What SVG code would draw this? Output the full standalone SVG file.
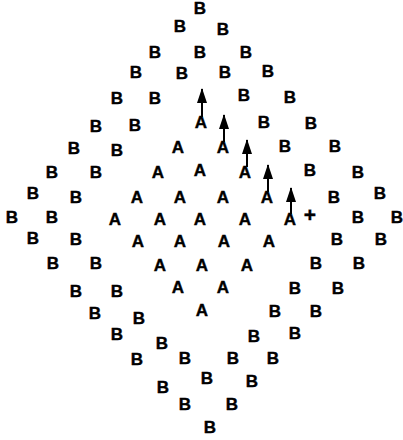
<svg xmlns="http://www.w3.org/2000/svg" width="403" height="440" viewBox="0 0 403 440">
<style>
text{font-family:"Liberation Sans",Arial,sans-serif;font-weight:bold;font-size:17px;fill:#000;stroke:#000;stroke-width:0.4;text-anchor:middle}
.p{font-size:21px}
.c line{stroke:#000;stroke-width:2}
</style>
<defs>
<marker id="ah" markerUnits="userSpaceOnUse" markerWidth="15" markerHeight="11" viewBox="0 0 15 11" refX="14" refY="5.5" orient="auto"><path d="M0,0.5 L15,5.5 L0,10.5 Z" fill="#000"/></marker>
</defs>
<rect width="403" height="440" fill="#fff"/>
<g id="nodes">
<g id="b1"><text x="200" y="14">B</text></g>
<g id="b2"><text x="180" y="32">B</text></g>
<g id="b3"><text x="223" y="35">B</text></g>
<g id="b4"><text x="155" y="58">B</text></g>
<g id="b5"><text x="200" y="58">B</text></g>
<g id="b6"><text x="246" y="58">B</text></g>
<g id="b7"><text x="136" y="78">B</text></g>
<g id="b8"><text x="182" y="79">B</text></g>
<g id="b9"><text x="225" y="78">B</text></g>
<g id="b10"><text x="268" y="77">B</text></g>
<g id="b11"><text x="117" y="104">B</text></g>
<g id="b12"><text x="155" y="104">B</text></g>
<g id="b13"><text x="244" y="101">B</text></g>
<g id="b14"><text x="290" y="103">B</text></g>
<g id="b15"><text x="96" y="132">B</text></g>
<g id="b16"><text x="135" y="131">B</text></g>
<g id="a1"><text x="201" y="128">A</text></g>
<g id="b17"><text x="264" y="128">B</text></g>
<g id="b18"><text x="311" y="129">B</text></g>
<g id="b19"><text x="74" y="154">B</text></g>
<g id="b20"><text x="117" y="156">B</text></g>
<g id="a2"><text x="178" y="153">A</text></g>
<g id="a3"><text x="223" y="153">A</text></g>
<g id="b21"><text x="285" y="152">B</text></g>
<g id="b22"><text x="335" y="152">B</text></g>
<g id="b23"><text x="52" y="178">B</text></g>
<g id="b24"><text x="96" y="178">B</text></g>
<g id="a4"><text x="158" y="178">A</text></g>
<g id="a5"><text x="200" y="176">A</text></g>
<g id="a6"><text x="245" y="178">A</text></g>
<g id="b25"><text x="310" y="176">B</text></g>
<g id="b26"><text x="358" y="178">B</text></g>
<g id="b27"><text x="33" y="199">B</text></g>
<g id="b28"><text x="76" y="203">B</text></g>
<g id="a7"><text x="137" y="203">A</text></g>
<g id="a8"><text x="180" y="203">A</text></g>
<g id="a9"><text x="223" y="203">A</text></g>
<g id="a10"><text x="267" y="203">A</text></g>
<g id="b29"><text x="334" y="203">B</text></g>
<g id="b30"><text x="380" y="199">B</text></g>
<g id="b31"><text x="12" y="223">B</text></g>
<g id="b32"><text x="52" y="223">B</text></g>
<g id="a11"><text x="115" y="225">A</text></g>
<g id="a12"><text x="160" y="225">A</text></g>
<g id="a13"><text x="200" y="225">A</text></g>
<g id="a14"><text x="245" y="225">A</text></g>
<g id="a15"><text x="290" y="225">A</text></g>
<g id="plus"><text class="p" x="310" y="222">+</text></g>
<g id="b33"><text x="358" y="223">B</text></g>
<g id="b34"><text x="397" y="223">B</text></g>
<g id="b35"><text x="33" y="244">B</text></g>
<g id="b36"><text x="76" y="245">B</text></g>
<g id="a16"><text x="138" y="247">A</text></g>
<g id="a17"><text x="180" y="247">A</text></g>
<g id="a18"><text x="224" y="247">A</text></g>
<g id="a19"><text x="269" y="247">A</text></g>
<g id="b37"><text x="337" y="245">B</text></g>
<g id="b38"><text x="381" y="245">B</text></g>
<g id="b39"><text x="53" y="269">B</text></g>
<g id="b40"><text x="96" y="269">B</text></g>
<g id="a20"><text x="160" y="271">A</text></g>
<g id="a21"><text x="202" y="271">A</text></g>
<g id="a22"><text x="247" y="271">A</text></g>
<g id="b41"><text x="316" y="269">B</text></g>
<g id="b42"><text x="359" y="269">B</text></g>
<g id="b43"><text x="76" y="297">B</text></g>
<g id="b44"><text x="117" y="297">B</text></g>
<g id="a23"><text x="178" y="293">A</text></g>
<g id="a24"><text x="223" y="293">A</text></g>
<g id="b45"><text x="295" y="294">B</text></g>
<g id="b46"><text x="338" y="294">B</text></g>
<g id="b47"><text x="95" y="319">B</text></g>
<g id="b48"><text x="139" y="324">B</text></g>
<g id="a25"><text x="202" y="316">A</text></g>
<g id="b49"><text x="275" y="317">B</text></g>
<g id="b50"><text x="316" y="317">B</text></g>
<g id="b51"><text x="117" y="340">B</text></g>
<g id="b52"><text x="162" y="349">B</text></g>
<g id="b53"><text x="254" y="342">B</text></g>
<g id="b54"><text x="295" y="339">B</text></g>
<g id="b55"><text x="137" y="365">B</text></g>
<g id="b56"><text x="185" y="364">B</text></g>
<g id="b57"><text x="233" y="364">B</text></g>
<g id="b58"><text x="273" y="364">B</text></g>
<g id="b59"><text x="163" y="393">B</text></g>
<g id="b60"><text x="207" y="384">B</text></g>
<g id="b61"><text x="252" y="387">B</text></g>
<g id="b62"><text x="185" y="410">B</text></g>
<g id="b63"><text x="232" y="410">B</text></g>
<g id="b64"><text x="210" y="433">B</text></g>
</g>
<g id="connectors" class="c">
<line x1="202" y1="117" x2="202" y2="89" marker-end="url(#ah)"/>
<line x1="224" y1="142" x2="224" y2="115" marker-end="url(#ah)"/>
<line x1="247" y1="167" x2="247" y2="140" marker-end="url(#ah)"/>
<line x1="268" y1="192" x2="268" y2="165" marker-end="url(#ah)"/>
<line x1="291" y1="214" x2="291" y2="188" marker-end="url(#ah)"/>
</g>
</svg>
